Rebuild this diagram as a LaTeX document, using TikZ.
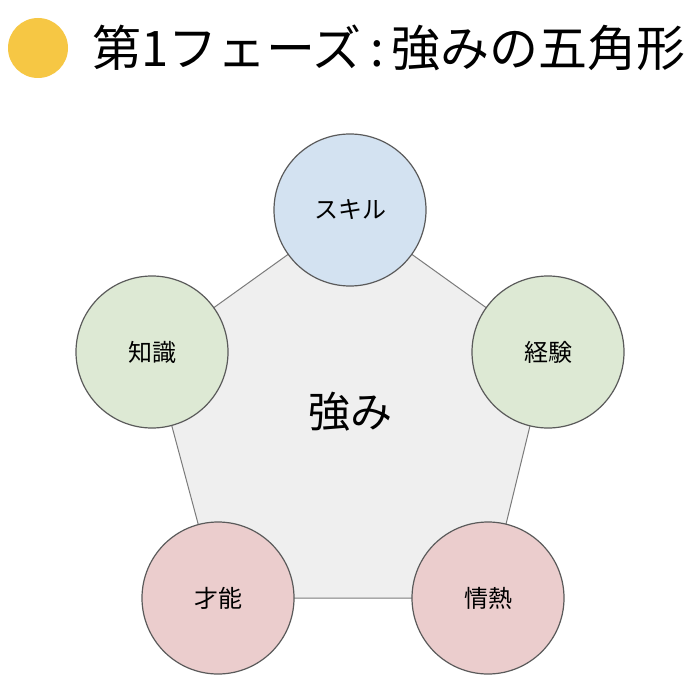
\documentclass[tikz,border=0pt]{standalone}
\usepackage{fontspec}
\setmainfont{Noto Sans CJK JP}
\definecolor{pent}{HTML}{EFEFEF}
\definecolor{cblue}{HTML}{D3E2F1}
\definecolor{cgreen}{HTML}{DDE9D4}
\definecolor{cred}{HTML}{EBCDCD}
\definecolor{yel}{HTML}{F6C744}
\definecolor{edge}{HTML}{5A5A5A}
\tikzset{ball/.style={circle,draw=edge,line width=1.2pt,minimum size=152pt,inner sep=0pt,font=\fontsize{24}{26}\selectfont}}
\begin{document}
\begin{tikzpicture}[x=1pt,y=-1pt]
\useasboundingbox (0,0) rectangle (700,700);
\fill[white] (0,0) rectangle (700,700);
\node[circle,fill=yel,minimum size=60pt,inner sep=0pt] (dot) at (38,48) {};
\node[anchor=west,font=\fontsize{49}{52}\selectfont,inner sep=0pt] (title) at (92,48) {第1フェーズ\,:\,強みの五角形};
\coordinate (t) at (350,210);
\coordinate (l) at (152,352);
\coordinate (r) at (548,352);
\coordinate (bl) at (218,598);
\coordinate (br) at (488,598);
\filldraw[fill=pent,draw=edge!80,line width=1pt] (t)--(r)--(br)--(bl)--(l)--cycle;
\node[font=\fontsize{42}{44}\selectfont] (center) at (350,412) {強み};
\node[ball,fill=cblue] (skill) at (t) {スキル};
\node[ball,fill=cgreen] (know) at (l) {知識};
\node[ball,fill=cgreen] (exp) at (r) {経験};
\node[ball,fill=cred] (tal) at (bl) {才能};
\node[ball,fill=cred] (pas) at (br) {情熱};
\end{tikzpicture}
\end{document}
